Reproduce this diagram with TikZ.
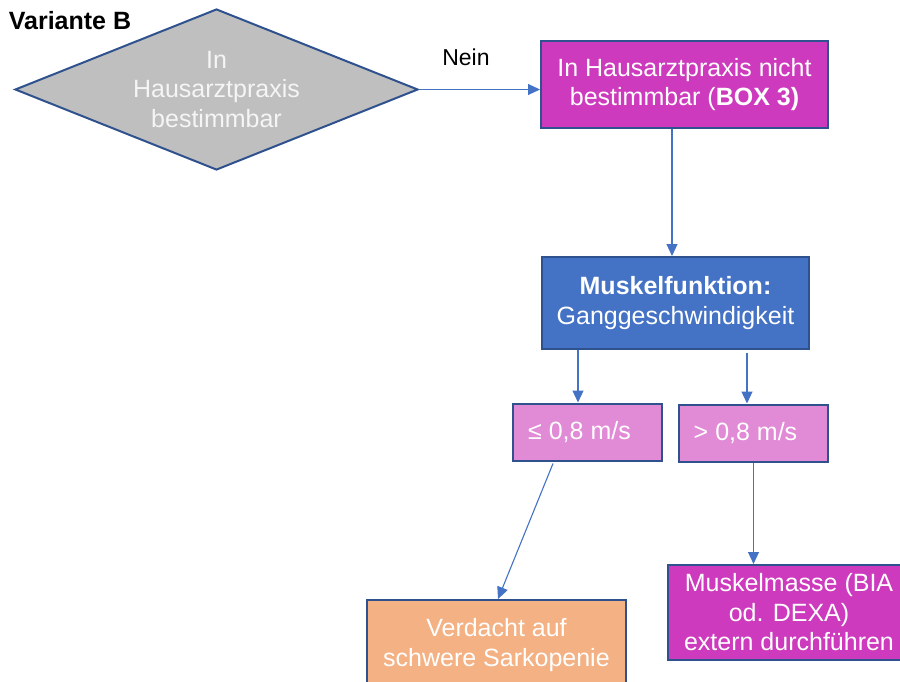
\documentclass[tikz,border=0pt]{standalone}
\usepackage{fontspec}
\setmainfont{Liberation Sans}
\usetikzlibrary{shapes.geometric,arrows.meta}
\definecolor{bordc}{HTML}{2F528F}
\definecolor{arrc}{HTML}{4472C4}
\definecolor{grayf}{HTML}{BFBFBF}
\definecolor{magf}{HTML}{CD3ABD}
\definecolor{bluef}{HTML}{4472C4}
\definecolor{pinkf}{HTML}{E18AD6}
\definecolor{orangef}{HTML}{F4B183}
\definecolor{txtw}{HTML}{F5F5F5}
\tikzset{
  boxbase/.style={draw=bordc, line width=2pt, inner sep=0pt, align=center, text=white,
    font=\fontsize{25}{29.5}\selectfont},
  decision/.style={boxbase, diamond, shape aspect=2.5, fill=grayf, text=txtw,
    minimum width=403pt, minimum height=161pt},
  magbox/.style={boxbase, fill=magf},
  bluebox/.style={boxbase, fill=bluef},
  pinkbox/.style={boxbase, fill=pinkf, minimum width=149pt, minimum height=57pt},
  orbox/.style={boxbase, fill=orangef},
  arr/.style={draw=arrc, line width=1.1pt, -{Triangle[length=12pt,width=11pt]}},
  plain/.style={font=\fontsize{23}{27}\selectfont, text=black, inner sep=0pt}
}
\begin{document}
\begin{tikzpicture}[x=1pt,y=-1pt]
\useasboundingbox (0,0) rectangle (900,682);
\clip (0,0) rectangle (900,682);
\node[plain, font=\bfseries\fontsize{25}{29}\selectfont] (title) at (70,21) {Variante B};
\node[decision] (dec) at (216.5,89.5) {In\\Hausarztpraxis\\bestimmbar};
\node[magbox, minimum width=287pt, minimum height=87pt] (b3) at (684.5,84.5)
  {In Hausarztpraxis nicht\\bestimmbar (\textbf{BOX 3)}};
\node[plain] (nein) at (466,57) {Nein};
\node[bluebox, minimum width=267pt, minimum height=92pt] (mf) at (675.5,303)
  {\textbf{Muskelfunktion:}\\Ganggeschwindigkeit};
\node[pinkbox] (le) at (587.5,432) {≤ 0,8 m/s\hspace*{16pt}};
\node[pinkbox] (gt) at (753.5,433) {> 0,8 m/s\hspace*{16pt}};
\node[orbox, minimum width=259pt, minimum height=90pt] (vd) at (496.5,645)
  {Verdacht auf\\schwere Sarkopenie};
\node[magbox, minimum width=242pt, minimum height=95pt] (mm) at (789,612.5)
  {Muskelmasse (BIA\\od. DEXA)\\extern durchführen};
\draw[arr] (dec.east) -- (dec.east -| b3.west);
\draw[arr] ([xshift=-12.5pt]b3.south) -- ([xshift=-12.5pt]b3.south |- mf.north);
\draw[arr] ([xshift=-97.5pt]mf.south) -- ([xshift=-97.5pt]mf.south |- le.north);
\draw[arr] ([xshift=71.5pt,yshift=-3pt]mf.south) -- ([xshift=71.5pt]mf.south |- gt.north);
\draw[arr] ([xshift=-34.5pt,yshift=-2pt]le.south) -- ([xshift=1.5pt]vd.north);
\draw[arr] (gt.south) -- (gt.south |- mm.north);
\end{tikzpicture}
\end{document}
